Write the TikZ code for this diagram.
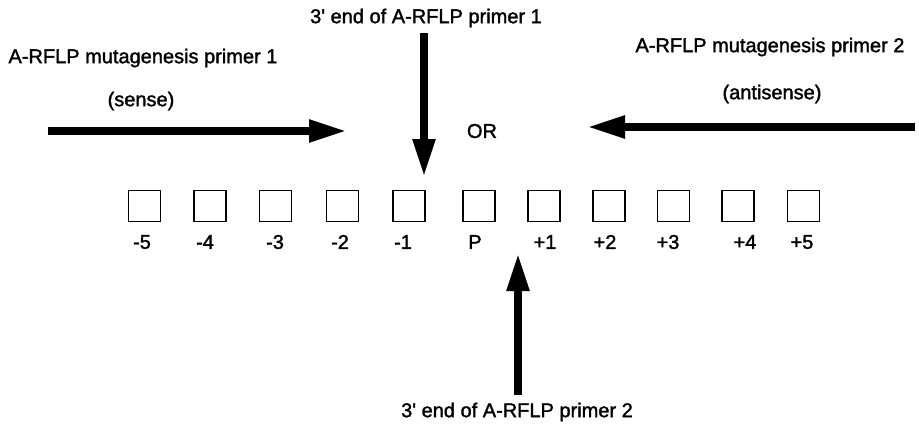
\documentclass[tikz,border=0pt]{standalone}
\usepackage{fontspec}
\setmainfont{Liberation Sans}
\newfontfamily\scanfont[FakeBold=1.6]{Liberation Sans}
\usetikzlibrary{arrows.meta}
\begin{document}
\begin{tikzpicture}[x=1pt,y=-1pt,
  base/.style={inner sep=0pt, font=\scanfont\fontsize{20}{22}\selectfont},
  numlab/.style={inner sep=0pt, font=\scanfont\fontsize{20}{22}\selectfont},
  site/.style={draw, line width=1.9pt, minimum width=32pt, minimum height=31pt, inner sep=0pt},
  fat/.style={line width=8pt, -{Triangle[length=38pt,width=21pt]}}
]
\useasboundingbox (0,0) rectangle (919,432);
% labels
\node[base] (t1) at (426,18) {3\textquotesingle{} end of A-RFLP primer 1};
\node[base] (p1) at (143,58) {A-RFLP mutagenesis primer 1};
\node[base] (s1) at (141,101) {(sense)};
\node[base] (p2) at (770,47) {A-RFLP mutagenesis primer 2};
\node[base] (s2) at (772,94) {(antisense)};
\node[base] (or) at (482,131) {OR};
\node[base] (t2) at (517,412) {3\textquotesingle{} end of A-RFLP primer 2};
% boxes
\foreach \i/\x/\lx/\t in {m5/144.5/142/-5, m4/210/205/-4, m3/275.5/275/-3, m2/342.5/340/-2, m1/409/403/-1, p/479/475/P, q1/544/545/+1, q2/609/605/+2, q3/673.5/668/+3, q4/738/745/+4, q5/803.5/802/+5}{
  \node[site] (b\i) at (\x,206) {};
  \node[numlab] (l\i) at (\lx,242) {\t};
}
% arrow end points
\coordinate (a1s) at (48,131);
\coordinate (a1e) at (347,131);
\coordinate (a2s) at (915,127);
\coordinate (a2e) at (587,127);
\coordinate (v1s) at (424,33);
\coordinate (v1e) at (424,177);
\coordinate (v2s) at (518,395);
\coordinate (v2e) at (518,253);
\draw[fat] (a1s) -- (a1e);
\draw[fat] (a2s) -- (a2e);
\draw[fat] (v1s) -- (v1e);
\draw[fat] (v2s) -- (v2e);
\end{tikzpicture}
\end{document}
